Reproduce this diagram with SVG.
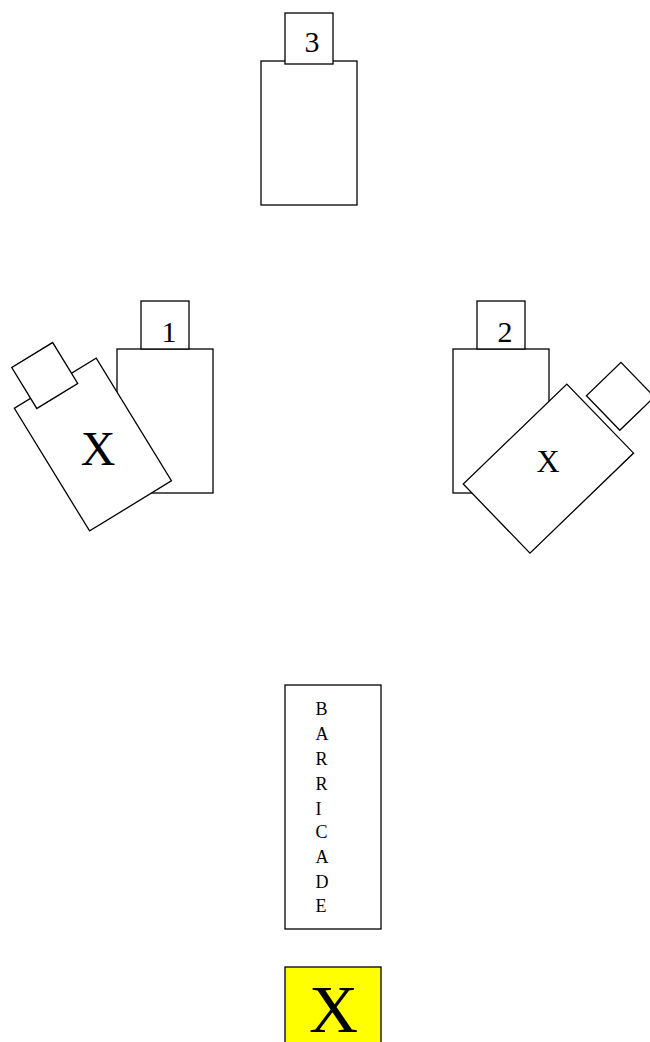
<svg xmlns="http://www.w3.org/2000/svg" width="650" height="1042" viewBox="0 0 650 1042">
<style>
.b{fill:#fff;stroke:#000;stroke-width:1.3}
.t{font-family:"Liberation Serif","Times New Roman",serif;fill:#000}
.m{text-anchor:middle}
</style>
<rect width="650" height="1042" fill="#fff"/>
<g id="vehicle3">
<rect class="b" x="261" y="61" width="96" height="144"/>
<rect class="b" x="285" y="13" width="48" height="51"/>
<text class="t m" x="312" y="52" font-size="30">3</text>
</g>
<g id="vehicle1">
<rect class="b" x="117" y="349" width="96" height="144"/>
<rect class="b" x="141" y="301" width="48" height="48"/>
<text class="t m" x="169" y="341.5" font-size="30">1</text>
</g>
<g id="vehicleX1">
<g transform="translate(92.9,444.5) rotate(-31.5)">
<rect class="b" x="-48" y="-72" width="96" height="144"/>
<rect class="b" x="-29" y="-108" width="48" height="48"/>
</g>
<text class="t m" x="98" y="465" font-size="48">X</text>
</g>
<g id="vehicle2">
<rect class="b" x="453" y="349" width="96" height="144"/>
<rect class="b" x="477" y="301" width="48" height="48"/>
<text class="t m" x="505" y="341.5" font-size="30">2</text>
</g>
<g id="vehicleX2">
<g transform="translate(548.4,468.6) rotate(46)">
<rect class="b" x="-48" y="-72" width="96" height="144"/>
<rect class="b" x="-26" y="-126" width="48" height="48"/>
</g>
<text class="t m" x="548" y="471.5" font-size="32">X</text>
</g>
<g id="barricade">
<rect class="b" x="285" y="685" width="96" height="244"/>
<text class="t" font-size="18">
<tspan x="315.5" y="715">B</tspan>
<tspan x="315.5" y="740">A</tspan>
<tspan x="315.5" y="765">R</tspan>
<tspan x="315.5" y="790">R</tspan>
<tspan x="315.5" y="814.5">I</tspan>
<tspan x="315.5" y="837.5">C</tspan>
<tspan x="315.5" y="862.5">A</tspan>
<tspan x="315.5" y="887.5">D</tspan>
<tspan x="315.5" y="912.3">E</tspan>
</text>
</g>
<g id="target">
<rect x="285" y="967" width="96" height="90" fill="#ffff00" stroke="#000" stroke-width="1.3"/>
<text class="t m" x="333.5" y="1031.7" font-size="68">X</text>
</g>
<g id="connectors"/>
</svg>
